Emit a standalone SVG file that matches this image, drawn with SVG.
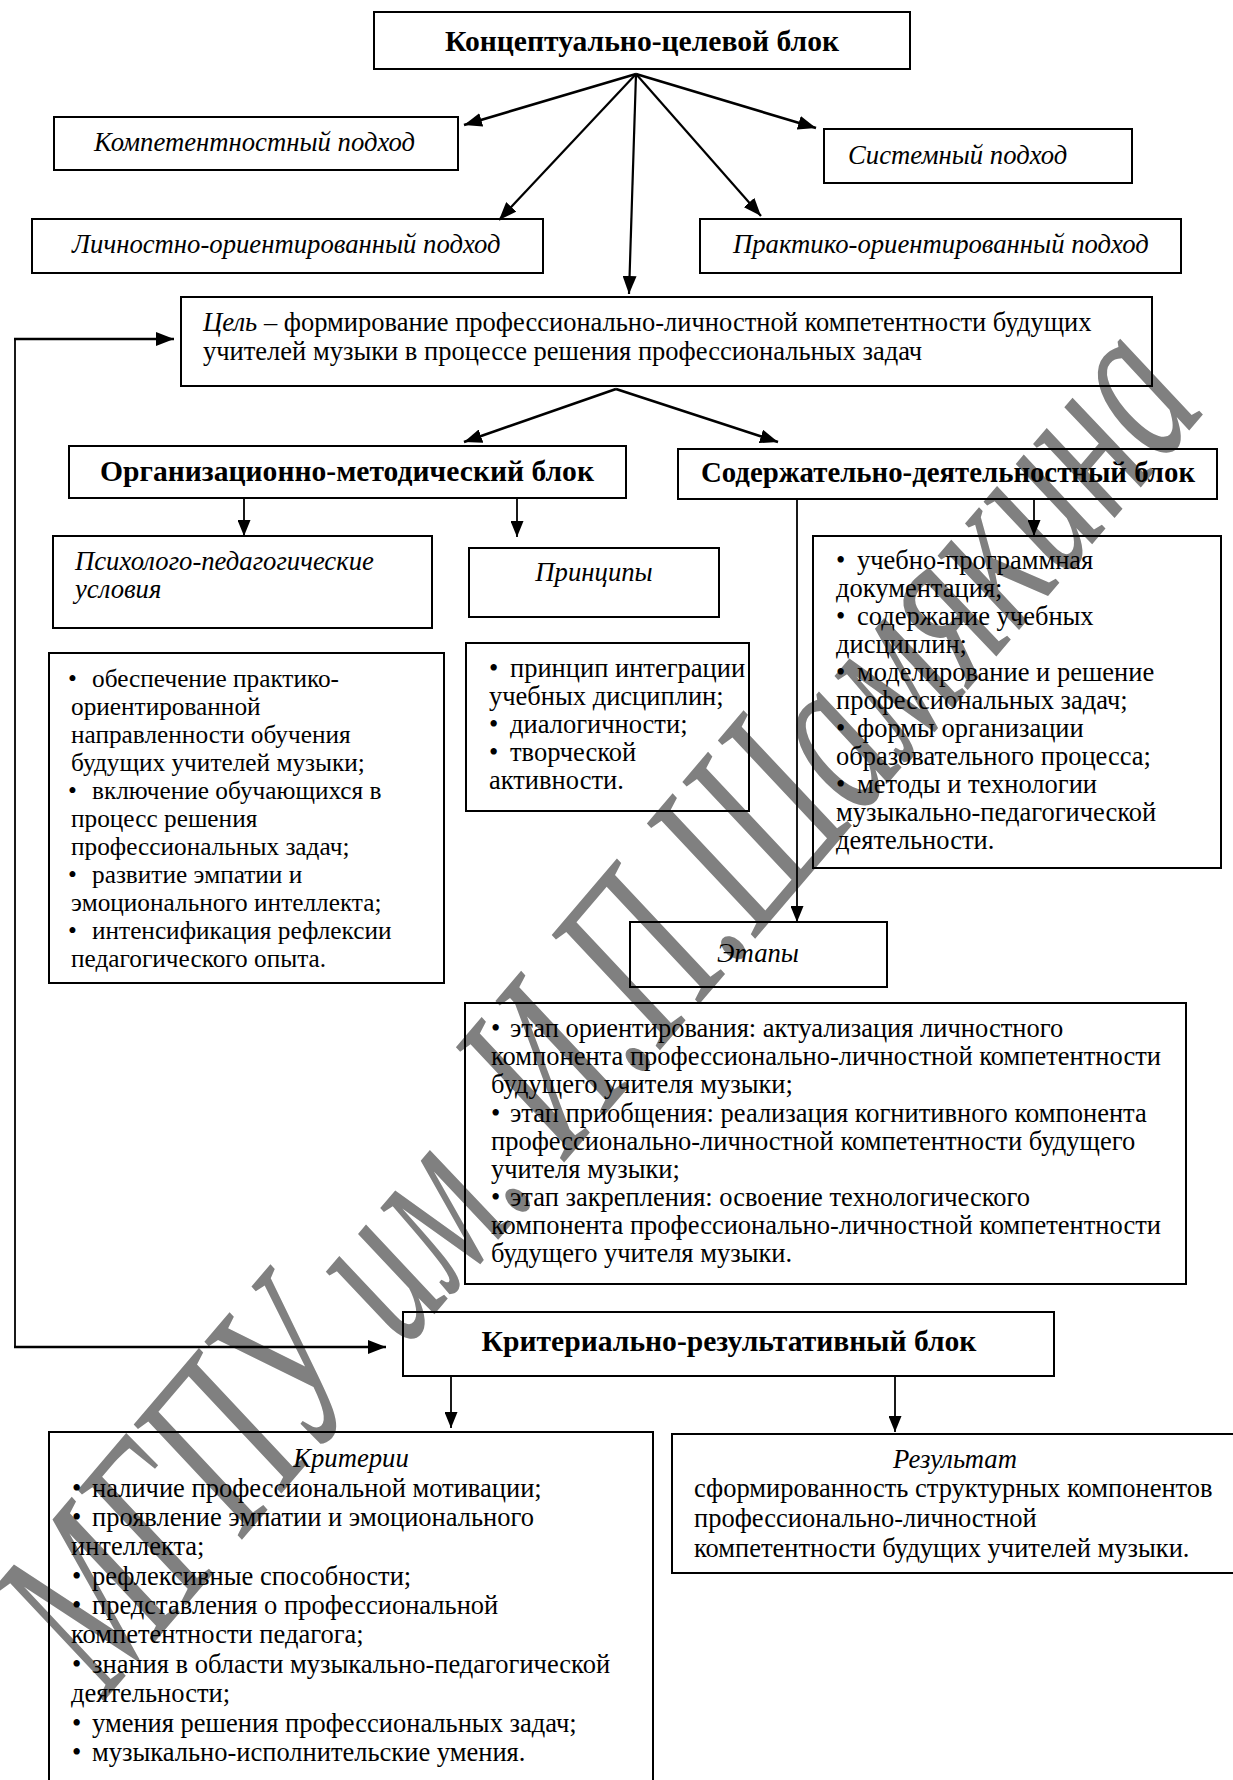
<svg xmlns="http://www.w3.org/2000/svg" width="1233" height="1780" viewBox="0 0 1233 1780">
<style>
.t{font-family:'Liberation Serif','Times New Roman',serif;font-size:26.5px;fill:#000}
.s{font-size:25.3px}
.h{font-size:29.6px;font-weight:bold}
.i{font-style:italic;font-size:26.7px}
.c{text-anchor:middle}
.box{fill:none;stroke:#000;stroke-width:2}
.thick{fill:none;stroke:#000;stroke-width:2.6}
.mid{fill:none;stroke:#000;stroke-width:2.2}
.thin{fill:none;stroke:#000;stroke-width:1.8}
.wm{font-family:'Liberation Serif','Times New Roman',serif;font-style:italic;fill:#808080}
</style>
<defs>
<marker id="ah" viewBox="0 0 18 14" refX="18" refY="7" markerWidth="18" markerHeight="14" markerUnits="userSpaceOnUse" orient="auto">
<path d="M0,0 L18,7 L0,14 z" fill="#000"/>
</marker>
<marker id="ahs" viewBox="0 0 16 13" refX="16" refY="6.5" markerWidth="16" markerHeight="13" markerUnits="userSpaceOnUse" orient="auto">
<path d="M0,0 L16,6.5 L0,13 z" fill="#000"/>
</marker>
</defs>
<rect width="1233" height="1780" fill="#fff"/>

<g id="watermark">
<text class="wm" font-size="240" textLength="1700" lengthAdjust="spacingAndGlyphs" transform="translate(105,1700) rotate(-49.5)">МГПУ им. И.П.Шамякина</text>
</g>

<g id="connectors">
<line class="thick" x1="636" y1="74" x2="464" y2="125" marker-end="url(#ah)"/>
<line class="thick" x1="636" y1="74" x2="816" y2="128" marker-end="url(#ah)"/>
<line class="mid" x1="636" y1="74" x2="499" y2="220" marker-end="url(#ah)"/>
<line class="mid" x1="636" y1="74" x2="761" y2="216" marker-end="url(#ah)"/>
<line class="mid" x1="636" y1="74" x2="629" y2="294" marker-end="url(#ah)"/>
<line class="thick" x1="616" y1="389" x2="464" y2="442" marker-end="url(#ah)"/>
<line class="thick" x1="616" y1="389" x2="778" y2="442" marker-end="url(#ah)"/>
<line class="thin" x1="244" y1="498" x2="244" y2="536" marker-end="url(#ahs)"/>
<line class="thin" x1="517" y1="498" x2="517" y2="537" marker-end="url(#ahs)"/>
<line class="thin" x1="1034" y1="499" x2="1034" y2="536" marker-end="url(#ahs)"/>
<line class="thin" x1="797" y1="499" x2="797" y2="922" marker-end="url(#ahs)"/>
<polyline class="thin" points="15,1347 15,339"/>
<line class="thick" x1="14" y1="339" x2="174" y2="339" marker-end="url(#ah)"/>
<line class="thick" x1="14" y1="1347" x2="386" y2="1347" marker-end="url(#ah)"/>
<line class="thin" x1="451" y1="1377" x2="451" y2="1428" marker-end="url(#ahs)"/>
<line class="thin" x1="895" y1="1377" x2="895" y2="1432" marker-end="url(#ahs)"/>
</g>

<g id="n-concept">
<rect class="box" x="374" y="12" width="536" height="57"/>
<text class="t h c" x="642" y="51">Концептуально-целевой блок</text>
</g>
<g id="n-competence">
<rect class="box" x="54" y="117" width="404" height="53"/>
<text class="t i" x="94" y="151">Компетентностный подход</text>
</g>
<g id="n-system">
<rect class="box" x="824" y="129" width="308" height="54"/>
<text class="t i" x="848" y="164">Системный подход</text>
</g>
<g id="n-personal">
<rect class="box" x="32" y="219" width="511" height="54"/>
<text class="t i" x="72" y="253">Личностно-ориентированный подход</text>
</g>
<g id="n-practice">
<rect class="box" x="700" y="219" width="481" height="54"/>
<text class="t i" x="733" y="253">Практико-ориентированный подход</text>
</g>
<g id="n-goal">
<rect class="box" x="181" y="297" width="971" height="89"/>
<text class="t" x="203" y="331"><tspan class="i">Цель</tspan> – формирование профессионально-личностной компетентности будущих</text>
<text class="t" x="203" y="360">учителей музыки в процессе решения профессиональных задач</text>
</g>
<g id="n-org">
<rect class="box" x="69" y="446" width="557" height="52"/>
<text class="t h c" x="347" y="481">Организационно-методический блок</text>
</g>
<g id="n-content">
<rect class="box" x="678" y="449" width="539" height="50"/>
<text class="t h c" x="948" y="482" style="font-size:28.8px">Содержательно-деятельностный блок</text>
</g>
<g id="n-conditions">
<rect class="box" x="53" y="536" width="379" height="92"/>
<text class="t i" x="75" y="570">Психолого-педагогические</text>
<text class="t i" x="75" y="598">условия</text>
</g>
<g id="n-principles">
<rect class="box" x="469" y="548" width="250" height="69"/>
<text class="t i c" x="594" y="581">Принципы</text>
</g>
<g id="n-conditions-list">
<rect class="box" x="49" y="653" width="395" height="330"/>
<text class="t s" x="68" y="687">•<tspan x="92">обеспечение практико-</tspan></text>
<text class="t s" x="71" y="715">ориентированной</text>
<text class="t s" x="71" y="743">направленности обучения</text>
<text class="t s" x="71" y="771">будущих учителей музыки;</text>
<text class="t s" x="68" y="799">•<tspan x="92">включение обучающихся в</tspan></text>
<text class="t s" x="71" y="827">процесс решения</text>
<text class="t s" x="71" y="855">профессиональных задач;</text>
<text class="t s" x="68" y="883">•<tspan x="92">развитие эмпатии и</tspan></text>
<text class="t s" x="71" y="911">эмоционального интеллекта;</text>
<text class="t s" x="68" y="939">•<tspan x="92">интенсификация рефлексии</tspan></text>
<text class="t s" x="71" y="967">педагогического опыта.</text>
</g>
<g id="n-principles-list">
<rect class="box" x="466" y="643" width="283" height="168"/>
<text class="t" x="489" y="677">•<tspan x="510">принцип интеграции</tspan></text>
<text class="t" x="489" y="705">учебных дисциплин;</text>
<text class="t" x="489" y="733">•<tspan x="510">диалогичности;</tspan></text>
<text class="t" x="489" y="761">•<tspan x="510">творческой</tspan></text>
<text class="t" x="489" y="789">активности.</text>
</g>
<g id="n-content-list">
<rect class="box" x="813" y="536" width="408" height="332"/>
<text class="t" x="836" y="569">•<tspan x="857">учебно-программная</tspan></text>
<text class="t" x="836" y="597">документация;</text>
<text class="t" x="836" y="625">•<tspan x="857">содержание учебных</tspan></text>
<text class="t" x="836" y="653">дисциплин;</text>
<text class="t" x="836" y="681">•<tspan x="857">моделирование и решение</tspan></text>
<text class="t" x="836" y="709">профессиональных задач;</text>
<text class="t" x="836" y="737">•<tspan x="857">формы организации</tspan></text>
<text class="t" x="836" y="765">образовательного процесса;</text>
<text class="t" x="836" y="793">•<tspan x="857">методы и технологии</tspan></text>
<text class="t" x="836" y="821">музыкально-педагогической</text>
<text class="t" x="836" y="849">деятельности.</text>
</g>
<g id="n-stages">
<rect class="box" x="630" y="922" width="257" height="65"/>
<text class="t i c" x="758" y="962">Этапы</text>
</g>
<g id="n-stages-list">
<rect class="box" x="465" y="1003" width="721" height="281"/>
<text class="t" x="491" y="1037">•<tspan x="510">этап ориентирования: актуализация личностного</tspan></text>
<text class="t" x="491" y="1065">компонента профессионально-личностной компетентности</text>
<text class="t" x="491" y="1093">будущего учителя музыки;</text>
<text class="t" x="491" y="1122">•<tspan x="510">этап приобщения: реализация когнитивного компонента</tspan></text>
<text class="t" x="491" y="1150">профессионально-личностной компетентности будущего</text>
<text class="t" x="491" y="1178">учителя музыки;</text>
<text class="t" x="491" y="1206">•<tspan x="510">этап закрепления: освоение технологического</tspan></text>
<text class="t" x="491" y="1234">компонента профессионально-личностной компетентности</text>
<text class="t" x="491" y="1262">будущего учителя музыки.</text>
</g>
<g id="n-result-block">
<rect class="box" x="403" y="1312" width="651" height="64"/>
<text class="t h c" x="729" y="1351">Критериально-результативный блок</text>
</g>
<g id="n-criteria">
<path class="box" d="M49,1795 L49,1432 L653,1432 L653,1795"/>
<text class="t i c" x="351" y="1467">Критерии</text>
<text class="t" x="72" y="1497">•<tspan x="92">наличие профессиональной мотивации;</tspan></text>
<text class="t" x="72" y="1526">•<tspan x="92">проявление эмпатии и эмоционального</tspan></text>
<text class="t" x="71" y="1555">интеллекта;</text>
<text class="t" x="72" y="1585">•<tspan x="92">рефлексивные способности;</tspan></text>
<text class="t" x="72" y="1614">•<tspan x="92">представления о профессиональной</tspan></text>
<text class="t" x="71" y="1643">компетентности педагога;</text>
<text class="t" x="72" y="1673">•<tspan x="92">знания в области музыкально-педагогической</tspan></text>
<text class="t" x="71" y="1702">деятельности;</text>
<text class="t" x="72" y="1732">•<tspan x="92">умения решения профессиональных задач;</tspan></text>
<text class="t" x="72" y="1761">•<tspan x="92">музыкально-исполнительские умения.</tspan></text>
</g>
<g id="n-result">
<path class="box" d="M1240,1434 L672,1434 L672,1573 L1240,1573"/>
<text class="t i c" x="955" y="1468">Результат</text>
<text class="t" x="694" y="1497">сформированность структурных компонентов</text>
<text class="t" x="694" y="1527">профессионально-личностной</text>
<text class="t" x="694" y="1557">компетентности будущих учителей музыки.</text>
</g>
</svg>
